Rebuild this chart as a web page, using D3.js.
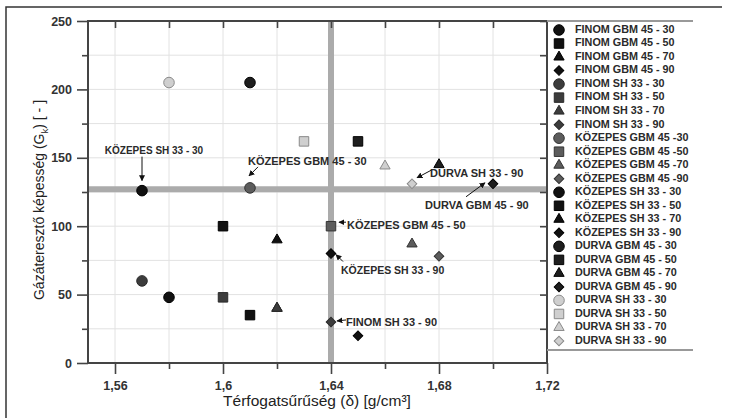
<!DOCTYPE html>
<html>
<head>
<meta charset="utf-8">
<script src="https://cdn.jsdelivr.net/npm/d3@7"></script>
<style>
  html, body { margin: 0; padding: 0; background: #fff; }
  svg { display: block; font-family: 'Liberation Sans', Arial, sans-serif; }
</style>
</head>
<body>
<svg id="chart" width="731" height="418"></svg>
<script>
(function() {
  'use strict';

  // series in legend order
  var seriesNames = [
    'FINOM GBM 45 - 30', 'FINOM GBM 45 - 50', 'FINOM GBM 45 - 70', 'FINOM GBM 45 - 90',
    'FINOM SH 33 - 30', 'FINOM SH 33 - 50', 'FINOM SH 33 - 70', 'FINOM SH 33 - 90',
    'KÖZEPES GBM 45 -30', 'KÖZEPES GBM 45 -50', 'KÖZEPES GBM 45 -70', 'KÖZEPES GBM 45 -90',
    'KÖZEPES SH 33 - 30', 'KÖZEPES SH 33 - 50', 'KÖZEPES SH 33 - 70', 'KÖZEPES SH 33 - 90',
    'DURVA GBM 45 - 30', 'DURVA GBM 45 - 50', 'DURVA GBM 45 - 70', 'DURVA GBM 45 - 90',
    'DURVA SH 33 - 30', 'DURVA SH 33 - 50', 'DURVA SH 33 - 70', 'DURVA SH 33 - 90'
  ];
  var densityValues = [
    1.58, 1.61, 1.62, 1.65,
    1.57, 1.60, 1.62, 1.64,
    1.61, 1.64, 1.67, 1.68,
    1.57, 1.60, 1.62, 1.64,
    1.61, 1.65, 1.68, 1.70,
    1.58, 1.63, 1.66, 1.67
  ];
  var permeabilityValues = [
    48, 35, 40, 20,
    60, 48, 40, 30,
    128, 100, 87, 78,
    126, 100, 90, 80,
    205, 162, 145, 131,
    205, 162, 144, 131
  ];
  var xTicks = [1.56, 1.6, 1.64, 1.68, 1.72];
  var yTicks = [0, 50, 100, 150, 200, 250];
  var refDensity = 1.64;
  var refPermeability = 127;

  // callouts: series index and label
  var calloutSeries = [12, 8, 23, 19, 9, 15, 7];
  var calloutTexts = [
    'KÖZEPES SH 33 - 30', 'KÖZEPES GBM 45 - 30', 'DURVA SH 33 - 90',
    'DURVA GBM 45 - 90', 'KÖZEPES GBM 45 - 50', 'KÖZEPES SH 33 - 90', 'FINOM SH 33 - 90'
  ];

  // styling (kept apart from the data)
  var groupFill = ['#111', '#3c3c3c', '#5c5c5c', '#111', '#1e1e1e', '#cfcfcf'];
  var groupStroke = ['#000', '#2a2a2a', '#333', '#000', '#000', '#8a8a8a'];
  var calloutLayout = [
    { tx: 12, ty: -39, anchor: 'middle', size: 10, a: [0, -34, 0, -10] },
    { tx: -2, ty: -26, anchor: 'start', size: 11, a: [8, -21, -1, -12] },
    { tx: 18, ty: -10, anchor: 'start', size: 11, a: [20, -14, 5, -6] },
    { tx: -68, ty: 22, anchor: 'start', size: 11, a: [-27, 13, -8, -1] },
    { tx: 16, ty: 0, anchor: 'start', size: 11, a: [15, -4, 8, -4] },
    { tx: 10, ty: 18, anchor: 'start', size: 10.5, a: [12, 8, 5, 1] },
    { tx: 15, ty: 1, anchor: 'start', size: 11, a: [15, -2, 6, -1] }
  ];

  var margin = { left: 88, top: 21, right: 547, bottom: 363 };

  var svg = d3.select('#chart');

  // outer frame (cropped figure)
  svg.append('path')
    .attr('d', 'M6,418V7H722')
    .attr('fill', 'none')
    .attr('stroke', '#333')
    .attr('stroke-width', 1.5);

  var x = d3.scaleLinear().domain([1.55, 1.72]).range([margin.left, margin.right]);
  var y = d3.scaleLinear().domain([0, 250]).range([margin.bottom, margin.top]);

  var xMinor = d3.range(0, 9).map(function(i) { return +(1.56 + i * 0.02).toFixed(2); });
  var yMinor = d3.range(0, 11).map(function(i) { return i * 25; });

  // grid
  svg.append('g')
    .selectAll('line')
    .data(xMinor.filter(function(d) { return d < 1.72; }))
    .enter().append('line')
    .attr('x1', function(d) { return x(d); })
    .attr('x2', function(d) { return x(d); })
    .attr('y1', margin.top)
    .attr('y2', margin.bottom)
    .attr('stroke', '#e2e2e2')
    .attr('stroke-width', 1);

  svg.append('g')
    .selectAll('line')
    .data(yMinor.filter(function(d) { return d > 0 && d < 250; }))
    .enter().append('line')
    .attr('x1', margin.left)
    .attr('x2', margin.right)
    .attr('y1', function(d) { return y(d); })
    .attr('y2', function(d) { return y(d); })
    .attr('stroke', '#e2e2e2')
    .attr('stroke-width', 1);

  // reference lines
  svg.append('line')
    .attr('x1', x(refDensity)).attr('x2', x(refDensity))
    .attr('y1', margin.top).attr('y2', margin.bottom)
    .attr('stroke', '#ababab').attr('stroke-width', 6);
  svg.append('line')
    .attr('x1', margin.left).attr('x2', margin.right)
    .attr('y1', y(refPermeability)).attr('y2', y(refPermeability))
    .attr('stroke', '#ababab').attr('stroke-width', 6);

  var fmt = function(d) { return String(+d.toFixed(2)).replace('.', ','); };

  // axes
  var axisColor = '#444';
  svg.append('g')
    .attr('transform', 'translate(0,' + margin.bottom + ')')
    .call(d3.axisBottom(x).tickValues(xTicks).tickSize(11).tickPadding(7).tickFormat(fmt));
  svg.append('g')
    .attr('transform', 'translate(0,' + margin.bottom + ')')
    .call(d3.axisBottom(x).tickValues(xMinor.filter(function(d) { return xTicks.indexOf(d) < 0; }))
      .tickSize(6).tickFormat(''));
  svg.append('g')
    .attr('transform', 'translate(' + margin.left + ',0)')
    .call(d3.axisLeft(y).tickValues(yTicks).tickSize(11).tickPadding(5).tickFormat(d3.format('d')));
  svg.append('g')
    .attr('transform', 'translate(' + margin.left + ',0)')
    .call(d3.axisLeft(y).tickValues(yMinor.filter(function(d) { return d % 50; })).tickSize(6).tickFormat(''));
  svg.append('g')
    .attr('transform', 'translate(0,' + margin.top + ')')
    .call(d3.axisBottom(x).tickValues(xMinor).tickSize(7).tickFormat(''));
  svg.append('g')
    .attr('transform', 'translate(' + margin.right + ',0)')
    .call(d3.axisLeft(y).tickValues(yMinor.filter(function(d) { return d > 0; })).tickSize(7).tickFormat(''));

  svg.selectAll('.domain').remove();
  svg.selectAll('.tick line').attr('stroke', axisColor).attr('stroke-width', 1.6);
  svg.selectAll('.tick text')
    .attr('fill', '#333')
    .style('font-size', '12.5px')
    .style('font-weight', 'bold')
    .style('font-family', "'Liberation Sans', Arial, sans-serif");

  // plot frame
  svg.append('rect')
    .attr('x', margin.left).attr('y', margin.top)
    .attr('width', margin.right - margin.left)
    .attr('height', margin.bottom - margin.top)
    .attr('fill', 'none')
    .attr('stroke', axisColor)
    .attr('stroke-width', 2);

  // points
  var points = seriesNames.map(function(name, i) {
    return { name: name, x: densityValues[i], y: permeabilityValues[i], i: i };
  });

  // circle, square, triangle, diamond (rotated square)
  var symbolFor = function(i) {
    var s = i % 4;
    if (s === 0) return d3.symbol().type(d3.symbolCircle).size(88)();
    if (s === 1) return d3.symbol().type(d3.symbolSquare).size(90)();
    if (s === 2) return d3.symbol().type(d3.symbolTriangle).size(46)();
    return d3.symbol().type(d3.symbolSquare).size(46)();
  };
  var rotFor = function(i) { return i % 4 === 3 ? ' rotate(45)' : ''; };

  svg.append('g')
    .selectAll('path')
    .data(points)
    .enter().append('path')
    .attr('transform', function(d) { return 'translate(' + x(d.x) + ',' + y(d.y) + ')' + rotFor(d.i); })
    .attr('d', function(d) { return symbolFor(d.i); })
    .attr('fill', function(d) { return groupFill[Math.floor(d.i / 4)]; })
    .attr('stroke', function(d) { return groupStroke[Math.floor(d.i / 4)]; })
    .attr('stroke-width', 1);

  // callouts
  svg.append('defs').append('marker')
    .attr('id', 'arrow')
    .attr('viewBox', '0 0 10 10')
    .attr('refX', 9).attr('refY', 5)
    .attr('markerWidth', 6).attr('markerHeight', 6)
    .attr('markerUnits', 'userSpaceOnUse')
    .attr('orient', 'auto')
    .append('path')
    .attr('d', 'M0,0L10,5L0,10Z')
    .attr('fill', '#111');

  var callouts = svg.append('g');
  calloutSeries.forEach(function(si, k) {
    var px = x(densityValues[si]), py = y(permeabilityValues[si]);
    var lay = calloutLayout[k];
    callouts.append('line')
      .attr('x1', px + lay.a[0]).attr('y1', py + lay.a[1])
      .attr('x2', px + lay.a[2]).attr('y2', py + lay.a[3])
      .attr('stroke', '#111')
      .attr('stroke-width', 1)
      .attr('marker-end', 'url(#arrow)');
    callouts.append('text')
      .attr('x', px + lay.tx)
      .attr('y', py + lay.ty)
      .attr('text-anchor', lay.anchor)
      .attr('dominant-baseline', 'middle')
      .style('font-size', lay.size + 'px')
      .style('font-weight', 'bold')
      .attr('fill', '#2a2a2a')
      .text(calloutTexts[k]);
  });

  // legend
  var legend = svg.append('g');
  legend.append('rect')
    .attr('x', margin.right + 1).attr('y', margin.top)
    .attr('width', 693 - margin.right - 1).attr('height', 350 - margin.top)
    .attr('fill', '#fff');
  legend.append('line')
    .attr('x1', margin.right).attr('x2', 693)
    .attr('y1', margin.top).attr('y2', margin.top)
    .attr('stroke', '#999').attr('stroke-width', 2);
  legend.append('line')
    .attr('x1', margin.right).attr('x2', 693)
    .attr('y1', 350).attr('y2', 350)
    .attr('stroke', '#999').attr('stroke-width', 2);

  var rowY = d3.scalePoint().domain(d3.range(seriesNames.length)).range([30, 341]);
  var rows = legend.selectAll('g')
    .data(points)
    .enter().append('g')
    .attr('transform', function(d) { return 'translate(559,' + rowY(d.i) + ')'; });
  rows.append('path')
    .attr('transform', function(d) { return rotFor(d.i); })
    .attr('d', function(d) { return symbolFor(d.i); })
    .attr('fill', function(d) { return groupFill[Math.floor(d.i / 4)]; })
    .attr('stroke', function(d) { return groupStroke[Math.floor(d.i / 4)]; })
    .attr('stroke-width', 1);
  rows.append('text')
    .attr('x', 16)
    .attr('dominant-baseline', 'middle')
    .style('font-size', '10.8px')
    .style('font-weight', 'bold')
    .attr('fill', '#2a2a2a')
    .text(function(d) { return d.name; });

  // axis titles
  svg.append('text')
    .attr('x', 317).attr('y', 406)
    .attr('text-anchor', 'middle')
    .style('font-size', '15.5px')
    .attr('fill', '#222')
    .text('Térfogatsűrűség (δ) [g/cm³]');

  var yt = svg.append('text')
    .attr('transform', 'translate(44,200) rotate(-90)')
    .attr('text-anchor', 'middle')
    .style('font-size', '14px')
    .attr('fill', '#222');
  yt.append('tspan').text('Gázáteresztő képesség (G');
  yt.append('tspan').attr('dy', 4).style('font-size', '9.5px').text('k');
  yt.append('tspan').attr('dy', -4).text(') [ - ]');
})();
</script>
</body>
</html>
